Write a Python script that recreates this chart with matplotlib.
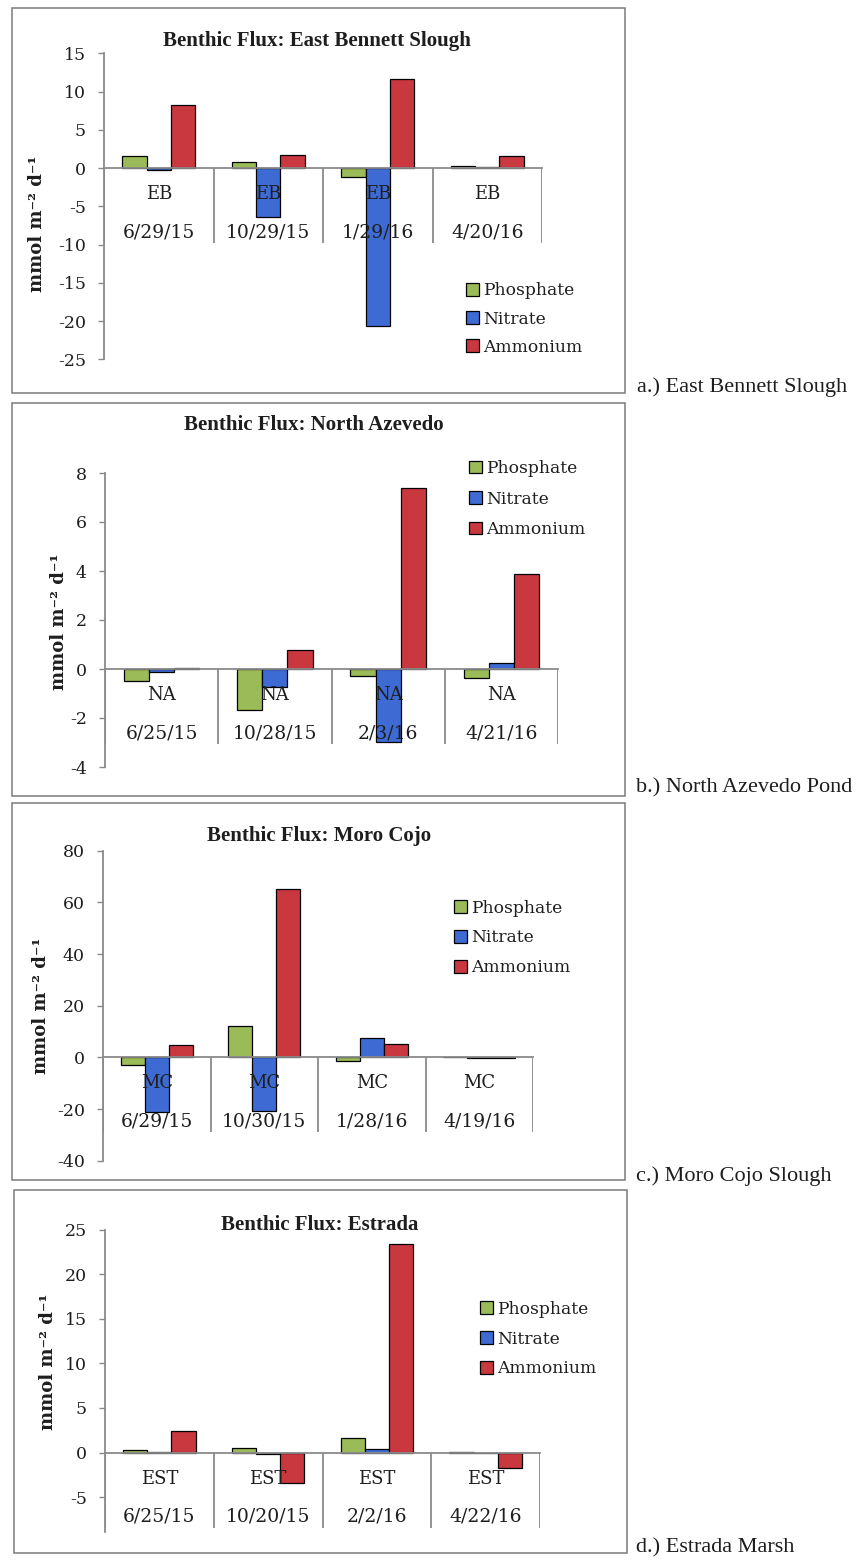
import matplotlib
matplotlib.use("Agg")
import matplotlib.pyplot as plt
from matplotlib.patches import Rectangle
import numpy as np

W, H, DPI = 859, 1560, 100

series_names = ["Phosphate", "Nitrate", "Ammonium"]
series_colors = ["#9BBB59", "#3E6BD3", "#C9373F"]

# East Bennett Slough
eb_site = "EB"
eb_dates = ["6/29/15", "10/29/15", "1/29/16", "4/20/16"]
eb_phosphate = [1.55, 0.8, -1.15, 0.3]
eb_nitrate = [-0.2, -6.45, -20.6, 0.1]
eb_ammonium = [8.25, 1.75, 11.65, 1.55]

# North Azevedo Pond
na_site = "NA"
na_dates = ["6/25/15", "10/28/15", "2/3/16", "4/21/16"]
na_phosphate = [-0.5, -1.68, -0.28, -0.38]
na_nitrate = [-0.12, -0.75, -2.96, 0.26]
na_ammonium = [0.04, 0.78, 7.37, 3.86]

# Moro Cojo Slough
mc_site = "MC"
mc_dates = ["6/29/15", "10/30/15", "1/28/16", "4/19/16"]
mc_phosphate = [-3.0, 12.0, -1.5, 0.2]
mc_nitrate = [-21.3, -20.6, 7.5, -0.3]
mc_ammonium = [4.9, 65.0, 5.2, -0.4]

# Estrada Marsh
est_site = "EST"
est_dates = ["6/25/15", "10/20/15", "2/2/16", "4/22/16"]
est_phosphate = [0.25, 0.5, 1.6, 0.05]
est_nitrate = [0.05, -0.2, 0.35, -0.05]
est_ammonium = [2.4, -3.4, 23.4, -1.7]

titles = ["Benthic Flux: East Bennett Slough", "Benthic Flux: North Azevedo",
          "Benthic Flux: Moro Cojo", "Benthic Flux: Estrada"]
captions = ["a.) East Bennett Slough", "b.) North Azevedo Pond",
            "c.) Moro Cojo Slough", "d.) Estrada Marsh"]

# layout in pixels (x, y measured from the top-left corner)
layouts = [
    dict(box=(12, 8, 625, 393), ax=(104, 53.3, 542, 359.3), ylim=(-25, 15), step=5,
         title=(317, 41), legend=(466, 319), lspace=0.65, ylabel=(37, 224), caption=(637, 387)),
    dict(box=(12, 403, 625, 796), ax=(105, 473, 558, 767), ylim=(-4, 8), step=2,
         title=(314, 425), legend=(469, 499), lspace=0.78, ylabel=(59, 622), caption=(636, 788)),
    dict(box=(12, 803, 625, 1180), ax=(103, 850.7, 533, 1160.7), ylim=(-40, 80), step=20,
         title=(319, 836), legend=(454, 938), lspace=0.75, ylabel=(41, 1006), caption=(636, 1176)),
    dict(box=(14, 1190, 627, 1553), ax=(105, 1229.5, 540, 1532), ylim=(-8.9, 25), step=5,
         title=(320, 1225), legend=(480, 1339), lspace=0.75, ylabel=(48, 1362), caption=(636, 1548)),
]

panels = [
    (eb_site, eb_dates, [eb_phosphate, eb_nitrate, eb_ammonium]),
    (na_site, na_dates, [na_phosphate, na_nitrate, na_ammonium]),
    (mc_site, mc_dates, [mc_phosphate, mc_nitrate, mc_ammonium]),
    (est_site, est_dates, [est_phosphate, est_nitrate, est_ammonium]),
]

REG = ["DejaVu Serif"]
TITLE_FONT = ["Liberation Serif", "DejaVu Serif"]
CAP_FONT = ["Liberation Serif", "DejaVu Serif"]
AXIS_GREY = "#8a8a8a"
TEXT = "#1e1e1e"


def fx(x):
    return x / W


def fy(y):
    return 1 - y / H


fig = plt.figure(figsize=(W / DPI, H / DPI), dpi=DPI)
fig.patch.set_facecolor("white")

bar_w = 1 / 4.5
offsets = np.array([-1, 0, 1]) * bar_w

for (site, dates, series), lay, title, caption in zip(panels, layouts, titles, captions):
    # outer frame
    bx0, by0, bx1, by1 = lay["box"]
    fig.patches.append(Rectangle((fx(bx0), fy(by1)), fx(bx1 - bx0), (by1 - by0) / H,
                                 transform=fig.transFigure, fill=False,
                                 edgecolor="#7a7a7a", linewidth=1.1, zorder=0))

    x0, y0, x1, y1 = lay["ax"]
    ax = fig.add_axes([fx(x0), fy(y1), fx(x1 - x0), (y1 - y0) / H])
    ax.set_facecolor("none")
    ymin, ymax = lay["ylim"]
    ax.set_ylim(ymin, ymax)
    ax.set_xlim(-0.5, 3.5)

    x = np.arange(len(dates))
    handles = []
    for k, (vals, name, col) in enumerate(zip(series, series_names, series_colors)):
        b = ax.bar(x + offsets[k], vals, width=bar_w, color=col, edgecolor="black",
                   linewidth=0.9, label=name, zorder=2)
        handles.append(b)

    # axes styling
    for s in ["top", "right"]:
        ax.spines[s].set_visible(False)
    ax.spines["bottom"].set_position(("data", 0))
    ax.spines["bottom"].set_color(AXIS_GREY)
    ax.spines["bottom"].set_linewidth(1.3)
    ax.spines["bottom"].set_zorder(3)
    ax.spines["left"].set_color(AXIS_GREY)
    ax.spines["left"].set_linewidth(1.3)
    ax.set_xticks([])
    start = int(np.ceil(ymin / lay["step"])) * lay["step"]
    yt = np.arange(start, ymax + 0.001, lay["step"])
    ax.set_yticks(yt)
    ax.set_yticklabels([f"{v:g}" for v in yt], fontfamily=REG, fontsize=12.5, color=TEXT)
    ax.tick_params(axis="y", direction="out", length=4, width=1, color=AXIS_GREY, pad=9)

    # group separators below the zero line
    px_per_unit = (y1 - y0) / (ymax - ymin)
    sep_y = -75 / px_per_unit
    for xs in np.arange(-0.5, len(dates), 1.0):
        ax.plot([xs, xs], [0, sep_y], color=AXIS_GREY, linewidth=1.3, zorder=3,
                solid_capstyle="butt")

    # two-level category labels
    for i, d in enumerate(dates):
        ax.annotate(site, xy=(i, 0), xytext=(0, -26 * 0.72), textcoords="offset points",
                    ha="center", va="center", fontsize=13, fontfamily=REG, color=TEXT,
                    zorder=4)
        ax.annotate(d, xy=(i, 0), xytext=(0, -64 * 0.72), textcoords="offset points",
                    ha="center", va="center", fontsize=13.5, fontfamily=REG, color=TEXT,
                    zorder=4)

    # title, axis label, legend, caption
    tx, ty = lay["title"]
    fig.text(fx(tx), fy(ty), title, ha="center", va="center", fontsize=15,
             fontweight="bold", fontfamily=TITLE_FONT, color=TEXT)
    lx, ly = lay["ylabel"]
    fig.text(fx(lx), fy(ly), "mmol m\u207b\u00b2 d\u207b\u00b9", rotation=90,
             ha="center", va="center", fontsize=13, fontweight="bold",
             fontfamily=REG, color=TEXT)
    gx, gy = lay["legend"]
    leg = ax.legend(handles=handles, loc="center left",
                    bbox_to_anchor=(fx(gx), fy(gy)), bbox_transform=fig.transFigure,
                    frameon=False, borderpad=0, borderaxespad=0, handlelength=0.75,
                    handleheight=0.75, handletextpad=0.25, labelspacing=lay["lspace"],
                    prop={"family": REG, "size": 12.3})
    for t in leg.get_texts():
        t.set_color(TEXT)
    cx, cy = lay["caption"]
    fig.text(fx(cx), fy(cy), caption, ha="left", va="center", fontsize=16,
             fontfamily=CAP_FONT, color=TEXT)

fig.savefig("out.png", dpi=DPI, facecolor="white")
